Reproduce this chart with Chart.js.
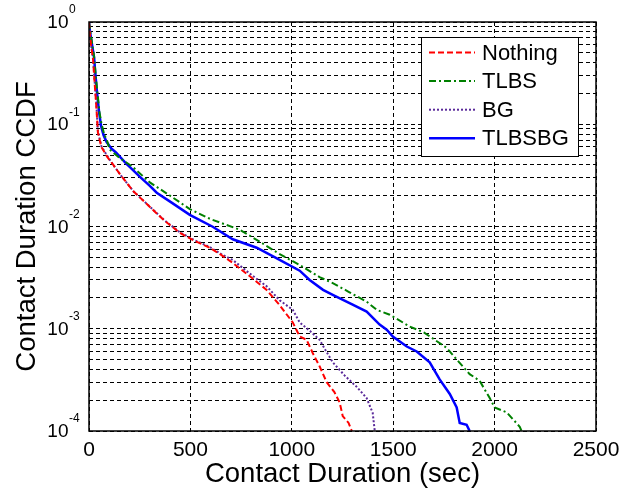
<!DOCTYPE html>
<html>
<head>
<meta charset="utf-8">
<script src="https://cdn.jsdelivr.net/npm/chart.js@4/dist/chart.umd.min.js"></script>
<style>
  html, body { margin: 0; padding: 0; background: #fff; }
  #wrap { width: 630px; height: 490px; position: relative; }
</style>
</head>
<body>
<div id="wrap"><canvas id="c" width="630" height="490"></canvas></div>
<script>
// ---- data ----
const seriesNames = ['Nothing', 'TLBS', 'BG', 'TLBSBG'];

const nothingX = [0,3,10,20,28,36,44,61,90,120,155,220,299,370,447,511,595,650,709,790,876,940,1005,1039,1073,1103,1137,1172,1210,1236,1251,1280,1296];
const nothingY = [1,0.8,0.6,0.43,0.25,0.15,0.083,0.06,0.048,0.04,0.032,0.022,0.0156,0.0115,0.0087,0.0074,0.0062,0.0053,0.0044,0.0033,0.0024,0.0017,0.00115,0.00084,0.00078,0.00058,0.00043,0.0003,0.00024,0.00019,0.00014,0.00012,0.0001];

const tlbsX = [0,5,15,25,33,42,52,62,75,90,102,150,215,300,400,497,600,743,842,938,1039,1137,1202,1280,1369,1419,1483,1582,1651,1764,1813,1877,1926,1976,2000,2060,2124,2133];
const tlbsY = [1,0.85,0.62,0.46,0.3,0.2,0.13,0.1,0.08,0.068,0.0564,0.047,0.0384,0.027,0.02,0.0148,0.0118,0.0093,0.0071,0.0054,0.0042,0.0032,0.0028,0.0023,0.00184,0.00153,0.00137,0.00105,0.00092,0.00065,0.0005,0.00036,0.00031,0.00021,0.00017,0.000152,0.00011,0.0001];

const bgX = [0,3,10,20,28,36,44,61,90,120,155,220,299,370,447,511,595,650,709,790,876,940,1005,1039,1090,1137,1170,1202,1260,1320,1369,1399,1409];
const bgY = [1,0.82,0.6,0.44,0.26,0.16,0.085,0.061,0.049,0.04,0.032,0.022,0.0157,0.0116,0.0088,0.0075,0.0063,0.0054,0.0047,0.0035,0.0026,0.0019,0.00153,0.00115,0.00095,0.00078,0.0006,0.00047,0.00035,0.00027,0.00021,0.00015,0.0001];

const tlbsbgX = [0,5,15,25,32,40,50,60,72,87,110,134,180,250,300,334,400,497,610,709,827,924,1039,1088,1154,1202,1300,1369,1433,1468,1498,1567,1616,1680,1729,1779,1813,1828,1862,1877];
const tlbsbgY = [1,0.8,0.6,0.45,0.3,0.2,0.13,0.095,0.078,0.067,0.058,0.0527,0.042,0.0307,0.025,0.0214,0.0175,0.013,0.00995,0.0075,0.0062,0.0049,0.0037,0.003,0.0024,0.00215,0.00172,0.00147,0.0011,0.00098,0.00084,0.00067,0.0006,0.00047,0.00032,0.00023,0.00017,0.00012,0.000115,0.0001];

const xTicks = [0, 500, 1000, 1500, 2000, 2500];
const yMajorExps = [0, -1, -2, -3, -4];
const yMinorMults = [1,2,3,4,5,6,7,8,9];

// ---- styling ----
const FONT = "'Liberation Sans', Arial, Helvetica, sans-serif";
const colors = ['#ff0000', '#008000', '#5a2a9a', '#0000ff'];
const dashes = [[6,3], [7,3,2,3], [2,2], []];
const widths = [2, 2, 2, 2.5];

const xs = [nothingX, tlbsX, bgX, tlbsbgX];
const ys = [nothingY, tlbsY, bgY, tlbsbgY];

const datasets = seriesNames.map((name, i) => ({
  label: name,
  data: xs[i].map((x, k) => ({ x: x, y: ys[i][k] })),
  borderColor: colors[i],
  backgroundColor: colors[i],
  borderDash: dashes[i],
  borderWidth: widths[i],
  pointRadius: 0,
  tension: 0,
  fill: false
}));

const yGridValues = [];
for (const e of [-4, -3, -2, -1]) {
  for (const m of yMinorMults) yGridValues.push(m * Math.pow(10, e));
}
yGridValues.push(1);

const frameAndLabels = {
  id: 'frameAndLabels',
  afterDraw(chart) {
    const ctx = chart.ctx;
    const a = chart.chartArea;
    const ysc = chart.scales.y;
    ctx.save();
    // axes box
    ctx.setLineDash([]);
    ctx.strokeStyle = '#000';
    ctx.lineWidth = 1.5;
    ctx.strokeRect(a.left, a.top, a.right - a.left, a.bottom - a.top);

    // y tick labels 10^n
    ctx.fillStyle = '#000';
    for (const e of yMajorExps) {
      const py = ysc.getPixelForValue(Math.pow(10, e));
      ctx.font = '19px ' + FONT;
      ctx.textAlign = 'right';
      ctx.textBaseline = 'middle';
      ctx.fillText('10', 68.5, py + 1);
      ctx.font = '12px ' + FONT;
      ctx.textAlign = 'left';
      ctx.fillText(String(e), 69, py - 12);
    }

    // axis titles
    ctx.font = '27.5px ' + FONT;
    ctx.textAlign = 'center';
    ctx.textBaseline = 'alphabetic';
    ctx.fillText('Contact Duration (sec)', (a.left + a.right) / 2, 482);
    ctx.save();
    ctx.translate(34.5, (a.top + a.bottom) / 2);
    ctx.rotate(-Math.PI / 2);
    ctx.fillText('Contact Duration CCDF', 0, 0);
    ctx.restore();

    // legend
    const lx = 421, ly = 37, lw = 157, lh = 119;
    ctx.fillStyle = '#fff';
    ctx.fillRect(lx, ly, lw, lh);
    ctx.strokeStyle = '#000';
    ctx.lineWidth = 1;
    ctx.strokeRect(lx + 0.5, ly + 0.5, lw, lh);
    chart.data.datasets.forEach((ds, i) => {
      const cy = 52.5 + i * 28.6;
      ctx.strokeStyle = ds.borderColor;
      ctx.lineWidth = ds.borderWidth;
      ctx.setLineDash(ds.borderDash);
      ctx.beginPath();
      ctx.moveTo(429, cy);
      ctx.lineTo(475, cy);
      ctx.stroke();
      ctx.setLineDash([]);
      ctx.fillStyle = '#000';
      ctx.font = '22px ' + FONT;
      ctx.textAlign = 'left';
      ctx.textBaseline = 'middle';
      ctx.fillText(ds.label, 482, cy + 1);
    });
    ctx.restore();
  }
};

const chart = new Chart(document.getElementById('c'), {
  type: 'line',
  data: { datasets: datasets },
  options: {
    responsive: false,
    animation: false,
    events: [],
    layout: { autoPadding: false, padding: { top: 22, right: 34, left: 0, bottom: 0 } },
    plugins: { legend: { display: false }, tooltip: { enabled: false }, title: { display: false } },
    scales: {
      x: {
        type: 'linear',
        min: 0, max: 2500,
        afterBuildTicks: (axis) => { axis.ticks = xTicks.map(v => ({ value: v })); },
        afterFit: (s) => { s.height = 59; },
        ticks: { color: '#000', font: { family: FONT, size: 21 }, padding: 7, maxRotation: 0,
                 callback: (v) => String(v) },
        grid: { color: '#000', lineWidth: 1, drawTicks: false },
        border: { display: false, dash: [4, 3] }
      },
      y: {
        type: 'logarithmic',
        min: 0.0001, max: 1,
        afterBuildTicks: (axis) => { axis.ticks = yGridValues.map(v => ({ value: v })); },
        afterFit: (s) => { s.width = 89; },
        ticks: { display: false },
        grid: { color: '#000', lineWidth: 1, drawTicks: false },
        border: { display: false, dash: [4, 3] }
      }
    }
  },
  plugins: [frameAndLabels]
});

// nudge the layout so the plot box lands where the reference has it
const target = { left: 89, top: 22, right: 596, bottom: 431 };
for (let i = 0; i < 3; i++) {
  const a = chart.chartArea;
  const p = chart.options.layout.padding;
  p.right += a.right - target.right;
  p.left += target.left - a.left;
  p.top += target.top - a.top;
  p.bottom += a.bottom - target.bottom;
  chart.update();
}
</script>
</body>
</html>
